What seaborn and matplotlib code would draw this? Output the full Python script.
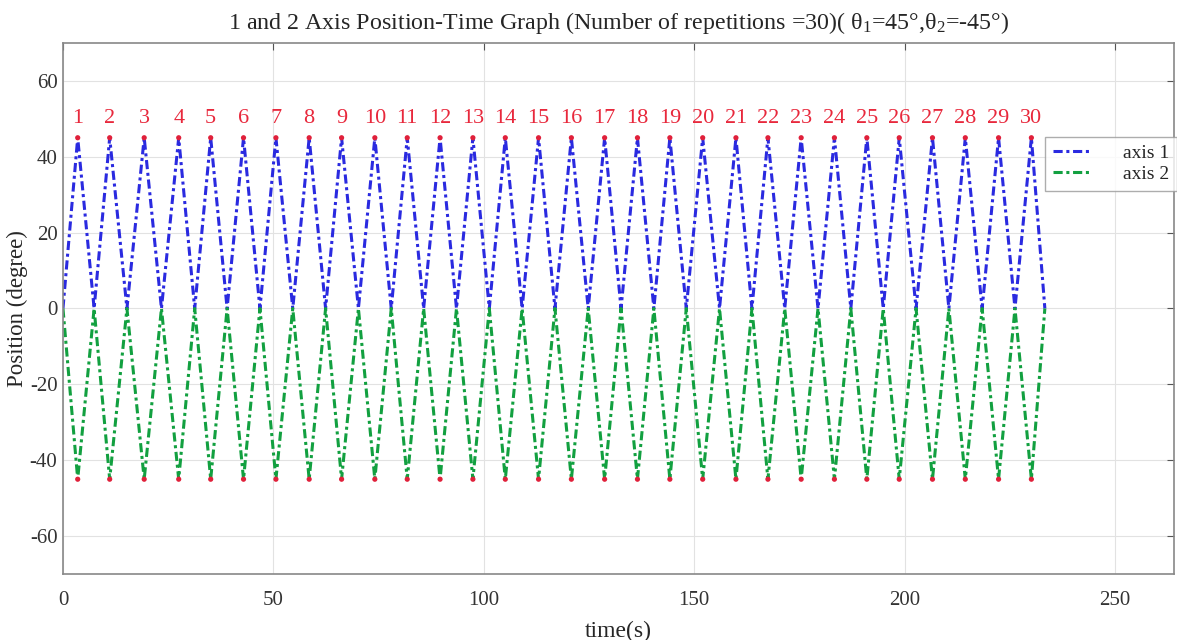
import numpy as np
import pandas as pd
import seaborn as sns
import matplotlib.pyplot as plt

# tiempos de los picos (s) y de los pasos por cero
peak_t = [3.5, 11.1, 19.3, 27.5, 35.1, 42.9, 50.6, 58.5, 66.2, 74.1,
          81.8, 89.6, 97.4, 105.1, 113.0, 120.8, 128.7, 136.5, 144.2, 152.0,
          159.9, 167.5, 175.4, 183.3, 191.0, 198.7, 206.6, 214.4, 222.3, 230.1]
zero_t = [0.0, 7.4, 15.2, 23.4, 31.3, 39.0, 46.8, 54.6, 62.4, 70.2, 78.0,
          85.7, 93.5, 101.3, 109.1, 116.9, 124.8, 132.6, 140.4, 148.1, 156.0,
          163.7, 171.5, 179.4, 187.2, 194.9, 202.7, 210.5, 218.4, 226.2, 233.3]
axis1_peak = [45, 45, 45, 45, 45, 45, 45, 45, 45, 45,
              45, 45, 45, 45, 45, 45, 45, 45, 45, 45,
              45, 45, 45, 45, 45, 45, 45, 45, 45, 45]
axis2_peak = [-45, -45, -45, -45, -45, -45, -45, -45, -45, -45,
              -45, -45, -45, -45, -45, -45, -45, -45, -45, -45,
              -45, -45, -45, -45, -45, -45, -45, -45, -45, -45]
rep_labels = [str(i) for i in range(1, 31)]

# construir las series alternando cero / pico
t, a1, a2 = [], [], []
for i in range(len(peak_t)):
    t += [zero_t[i], peak_t[i]]
    a1 += [0, axis1_peak[i]]
    a2 += [0, axis2_peak[i]]
t.append(zero_t[-1]); a1.append(0); a2.append(0)
df = pd.DataFrame({'time': t, 'axis 1': a1, 'axis 2': a2})

sns.set_style('whitegrid')
plt.rcParams['font.family'] = ['Liberation Serif', 'DejaVu Serif']
plt.rcParams['mathtext.fontset'] = 'custom'
plt.rcParams['mathtext.rm'] = 'Liberation Serif'
plt.rcParams['mathtext.it'] = 'Liberation Serif'
plt.rcParams['axes.unicode_minus'] = False

fig = plt.figure(figsize=(11.77, 6.4), dpi=100)
ax = fig.add_axes([0.0535, 0.103, 0.944, 0.83])

dash = (3, 1.2, 1, 1.2)
sns.lineplot(data=df, x='time', y='axis 1', sort=False, color='#2a2ae0',
             lw=2.2, ax=ax, label='axis 1').lines[-1].set_dashes(dash)
sns.lineplot(data=df, x='time', y='axis 2', sort=False, color='#12a040',
             lw=2.2, ax=ax, label='axis 2').lines[-1].set_dashes(dash)

sns.scatterplot(x=peak_t, y=axis1_peak, color='#e0203a', s=14, edgecolor='none', ax=ax, zorder=5)
sns.scatterplot(x=peak_t, y=axis2_peak, color='#e0203a', s=14, edgecolor='none', ax=ax, zorder=5)
for x, lab in zip(peak_t, rep_labels):
    ax.text(x, 50.0, lab, color='#e8283c', ha='center', va='center', fontsize=16)

ax.set_xlim(0, 264)
ax.set_ylim(-70, 70)
ax.set_xticks([0, 50, 100, 150, 200, 250])
ax.set_yticks([-60, -40, -20, 0, 20, 40, 60])
ax.tick_params(direction='in', top=True, right=True, labelsize=15, colors='#555555',
               length=5, labelcolor='#333333')
ax.tick_params(axis='x', pad=12)
ax.tick_params(axis='y', pad=4)
ax.grid(color='#e2e2e2', lw=0.8)
for s in ax.spines.values():
    s.set_color('#888888')
    s.set_linewidth(1.2)

ax.set_xlabel('time(s)', fontsize=17, labelpad=8)
ax.set_ylabel('Position (degree)', fontsize=16.5, labelpad=1)
ax.set_title('1 and 2 Axis Position-Time Graph (Number of repetitions =30)( θ$_1$=45°,θ$_2$=-45°)',
             fontsize=17.3, pad=10)

leg = ax.legend(loc='upper left', bbox_to_anchor=(0.884, 0.823), fontsize=14,
                frameon=True, fancybox=False, edgecolor='#999999', handlelength=2.0,
                borderaxespad=0, labelspacing=0.15, handletextpad=1.6)
leg.get_frame().set_linewidth(1.0)

fig.savefig('out.png', dpi=100)
